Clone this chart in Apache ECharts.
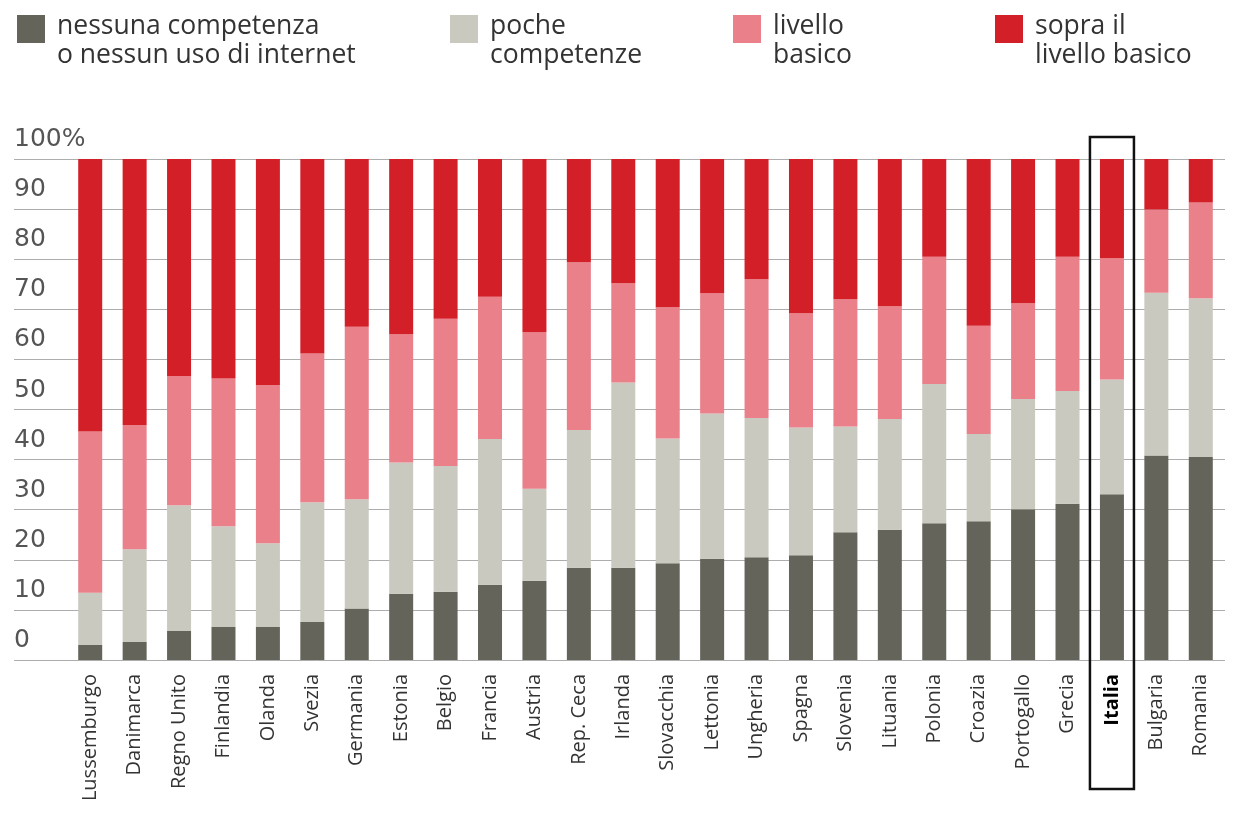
<!DOCTYPE html>
<html>
<head>
<meta charset="utf-8">
<script src="https://cdn.jsdelivr.net/npm/echarts@6/dist/echarts.min.js"></script>
<style>
  html, body { margin: 0; padding: 0; background: #fff; }
  #main { width: 1236px; height: 825px; }
</style>
</head>
<body>
<div id="main"></div>
<script>
// paesi, ordinati come nel grafico
var paesi = ['Lussemburgo', 'Danimarca', 'Regno Unito', 'Finlandia', 'Olanda', 'Svezia',
  'Germania', 'Estonia', 'Belgio', 'Francia', 'Austria', 'Rep. Ceca', 'Irlanda',
  'Slovacchia', 'Lettonia', 'Ungheria', 'Spagna', 'Slovenia', 'Lituania', 'Polonia',
  'Croazia', 'Portogallo', 'Grecia', 'Italia', 'Bulgaria', 'Romania'];

// valori in %
var nessuna = [3.0, 3.6, 5.8, 6.6, 6.6, 7.6, 10.3, 13.2, 13.6, 15.0, 15.8, 18.4, 18.4,
  19.3, 20.2, 20.5, 20.9, 25.5, 26.0, 27.3, 27.7, 30.1, 31.2, 33.1, 40.8, 40.5];
var poche = [10.4, 18.5, 25.1, 20.1, 16.7, 23.9, 21.8, 26.2, 25.1, 29.1, 18.4, 27.5, 37.0,
  24.9, 29.0, 27.8, 25.5, 21.1, 22.1, 27.8, 17.4, 22.0, 22.5, 22.9, 32.5, 31.7];
var basico = [32.2, 24.8, 25.8, 29.5, 31.6, 29.7, 34.4, 25.6, 29.4, 28.4, 31.2, 33.5, 19.8,
  26.2, 24.0, 27.7, 22.8, 25.4, 22.5, 25.4, 21.6, 19.1, 26.8, 24.2, 16.6, 19.1];
var sopra = [54.4, 53.1, 43.3, 43.8, 45.1, 38.8, 33.5, 35.0, 31.9, 27.5, 34.6, 20.6, 24.8,
  29.6, 26.8, 24.0, 30.8, 28.0, 29.4, 19.5, 33.3, 28.8, 19.5, 19.8, 10.1, 8.7];

var nomi = ['nessuna competenza\no nessun uso di internet', 'poche\ncompetenze',
  'livello\nbasico', 'sopra il\nlivello basico'];
var colori = ['#64645a', '#c9c9bf', '#e9808a', '#d31f28'];
var serie = [nessuna, poche, basico, sopra];
var evidenziato = 'Italia';

var font = 'Open Sans';
var myChart = echarts.init(document.getElementById('main'));

var legendLeft = [17, 450, 733, 995];
var legends = nomi.map(function (n, i) {
  return {
    data: [n],
    left: legendLeft[i],
    top: -5,
    padding: 0,
    itemWidth: 28,
    itemHeight: 28,
    icon: 'rect',
    selectedMode: false,
    // riga vuota in testa per allineare l'icona alla prima riga
    formatter: function (name) {
      return '{s| }\n' + name.split('\n').map(function (r) {
        return '{t|' + r + '}';
      }).join('\n');
    },
    textStyle: {
      rich: {
        s: { fontSize: 10, lineHeight: 24 },
        t: { fontFamily: font, fontSize: 26.5, lineHeight: 29, color: '#333', padding: [0, 0, 0, 7] }
      }
    }
  };
});

myChart.setOption({
  animation: false,
  legend: legends,
  grid: [
    { left: 14, right: 11, top: 159, bottom: 165 },
    { left: 68, right: 13, top: 159, bottom: 165 }
  ],
  xAxis: [
    { type: 'value', gridIndex: 0, show: false, min: 0, max: 1 },
    {
      type: 'category',
      gridIndex: 1,
      data: paesi,
      axisLine: { show: false },
      axisTick: { show: false },
      axisLabel: {
        interval: 0,
        rotate: 90,
        margin: 14,
        fontFamily: font,
        fontSize: 20,
        color: '#333',
        formatter: function (v) {
          return v === evidenziato ? '{b|' + v + '}' : v;
        },
        rich: {
          b: { fontFamily: font, fontSize: 20, fontWeight: 'bold', color: '#000' }
        }
      }
    }
  ],
  yAxis: [
    {
      type: 'value',
      gridIndex: 0,
      min: 0,
      max: 100,
      interval: 10,
      axisLine: { show: false },
      axisTick: { show: false },
      splitLine: { lineStyle: { color: '#adadad', width: 1 } },
      axisLabel: {
        inside: true,
        margin: 0,
        align: 'left',
        verticalAlign: 'bottom',
        padding: [0, 0, 7, 0],
        fontFamily: 'DejaVu Sans',
        fontSize: 25,
        color: '#555',
        formatter: function (v) { return v === 100 ? '100%' : v; }
      }
    },
    { type: 'value', gridIndex: 1, min: 0, max: 100, show: false }
  ],
  series: serie.map(function (d, i) {
    return {
      name: nomi[i],
      type: 'bar',
      stack: 'tot',
      xAxisIndex: 1,
      yAxisIndex: 1,
      barWidth: 24,
      itemStyle: { color: colori[i] },
      data: d
    };
  })
});

// riquadro attorno all'Italia
var cx = myChart.convertToPixel({ xAxisIndex: 1 }, evidenziato);
var yTop = myChart.convertToPixel({ yAxisIndex: 1 }, 100);
var yZero = myChart.convertToPixel({ yAxisIndex: 1 }, 0);
myChart.setOption({
  graphic: [{
    type: 'rect',
    shape: { x: cx - 22, y: yTop - 22, width: 44, height: yZero - yTop + 22 + 129 },
    style: { fill: 'none', stroke: '#111', lineWidth: 2.5 },
    z: 10
  }]
});
</script>
</body>
</html>
